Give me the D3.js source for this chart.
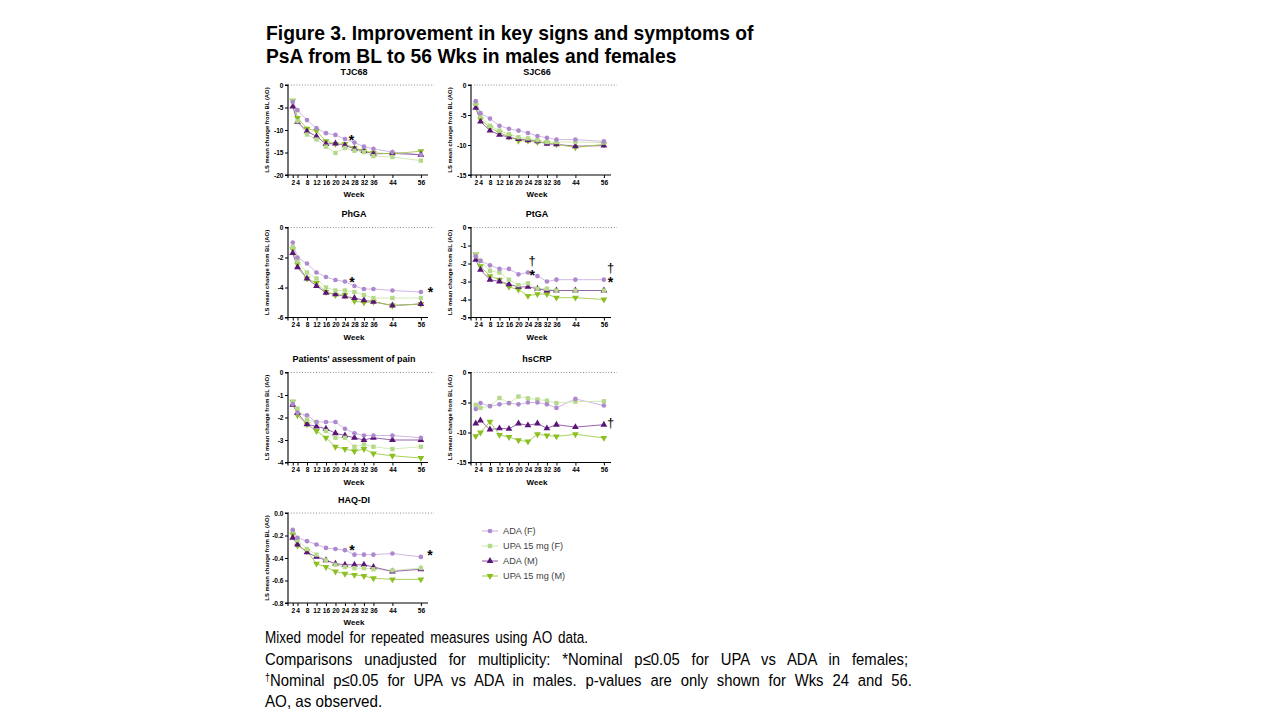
<!DOCTYPE html>
<html>
<head>
<meta charset="utf-8">
<script src="https://cdn.jsdelivr.net/npm/d3@7/dist/d3.min.js"></script>
<style>
  html, body { margin: 0; padding: 0; background: #fff; }
  svg { display: block; }
  text { font-family: "Liberation Sans", Arial, sans-serif; }
</style>
</head>
<body>
<svg id="chart" width="1280" height="720"></svg>
<script>
// ---------------- DATA ----------------
const weeks = [2, 4, 8, 12, 16, 20, 24, 28, 32, 36, 44, 56];
const xTickLabels = ["2", "4", "8", "12", "16", "20", "24", "28", "32", "36", "44", "56"];
const seriesNames = ["ADA (F)", "UPA 15 mg (F)", "ADA (M)", "UPA 15 mg (M)"];
const panelTitles = ["TJC68", "SJC66", "PhGA", "PtGA", "Patients' assessment of pain", "hsCRP", "HAQ-DI"];

// TJC68
const tjc68_ADA_F = [-3.8, -5.6, -7.8, -9.6, -10.7, -11.1, -12.0, -12.8, -13.7, -14.2, -14.9, -15.5];
const tjc68_UPA_F = [-3.5, -8.0, -11.0, -12.1, -13.7, -15.1, -14.0, -14.6, -14.9, -15.8, -16.0, -16.8];
const tjc68_ADA_M = [-4.8, -8.2, -10.3, -11.4, -13.1, -13.0, -13.4, -14.2, -14.7, -15.3, -15.2, -15.5];
const tjc68_UPA_M = [-3.5, -7.3, -9.7, -10.2, -12.5, -13.1, -13.1, -14.0, -14.6, -15.1, -15.3, -14.7];
const tjc68_yTicks = [0, -5, -10, -15, -20];

// SJC66
const sjc66_ADA_F = [-2.7, -4.7, -5.6, -6.8, -7.3, -7.6, -8.0, -8.5, -8.8, -9.1, -9.1, -9.4];
const sjc66_UPA_F = [-3.1, -5.2, -6.8, -7.6, -8.2, -8.7, -8.9, -9.2, -9.5, -9.5, -9.5, -9.6];
const sjc66_ADA_M = [-3.8, -6.1, -7.6, -8.3, -8.7, -9.0, -9.2, -9.4, -9.8, -9.9, -10.2, -10.1];
const sjc66_UPA_M = [-3.4, -5.7, -7.1, -7.95, -8.6, -9.3, -9.3, -9.5, -9.6, -9.9, -10.4, -9.9];
const sjc66_yTicks = [0, -5, -10, -15];

// PhGA
const phga_ADA_F = [-1.0, -2.0, -2.4, -3.0, -3.3, -3.5, -3.6, -3.9, -4.1, -4.1, -4.2, -4.3];
const phga_UPA_F = [-1.3, -2.25, -3.0, -3.4, -4.0, -4.2, -4.2, -4.3, -4.5, -4.7, -4.7, -4.7];
const phga_ADA_M = [-1.7, -2.65, -3.4, -3.9, -4.35, -4.45, -4.6, -4.7, -4.85, -4.95, -5.2, -5.1];
const phga_UPA_M = [-1.45, -2.45, -3.4, -3.7, -4.3, -4.5, -4.5, -4.9, -5.0, -4.95, -5.2, -5.1];
const phga_yTicks = [0, -2, -4, -6];

// PtGA
const ptga_ADA_F = [-1.6, -1.85, -2.1, -2.3, -2.3, -2.6, -2.5, -2.7, -3.0, -2.9, -2.9, -2.9];
const ptga_UPA_F = [-1.5, -1.85, -2.4, -2.5, -2.9, -3.2, -3.1, -3.4, -3.4, -3.5, -3.5, -3.5];
const ptga_ADA_M = [-1.8, -2.35, -2.9, -3.0, -3.15, -3.3, -3.3, -3.4, -3.5, -3.5, -3.5, -3.5];
const ptga_UPA_M = [-1.5, -2.15, -2.7, -2.9, -3.3, -3.45, -3.8, -3.7, -3.7, -3.9, -3.9, -4.0];
const ptga_yTicks = [0, -1, -2, -3, -4, -5];

// Patients' assessment of pain
const pain_ADA_F = [-1.4, -1.8, -1.9, -2.2, -2.2, -2.2, -2.5, -2.7, -2.8, -2.8, -2.8, -2.9];
const pain_UPA_F = [-1.3, -1.6, -2.1, -2.2, -2.6, -2.9, -2.9, -3.3, -3.2, -3.3, -3.4, -3.3];
const pain_ADA_M = [-1.43, -1.8, -2.3, -2.4, -2.5, -2.7, -2.8, -2.9, -3.0, -2.9, -3.0, -3.0];
const pain_UPA_M = [-1.3, -1.9, -2.3, -2.6, -2.9, -3.3, -3.4, -3.5, -3.4, -3.6, -3.7, -3.8];
const pain_yTicks = [0, -1, -2, -3, -4];

// hsCRP
const crp_ADA_F = [-6.1, -5.1, -5.6, -5.3, -5.1, -5.3, -5.0, -5.0, -5.3, -5.9, -4.4, -5.5];
const crp_UPA_F = [-5.4, -5.9, -5.6, -4.25, -5.1, -4.0, -4.3, -4.5, -4.7, -5.1, -4.85, -4.8];
const crp_ADA_M = [-8.5, -8.0, -9.5, -9.3, -9.4, -8.5, -8.8, -8.5, -9.3, -8.7, -9.1, -8.7];
const crp_UPA_M = [-10.6, -10.0, -8.2, -10.4, -10.75, -11.3, -11.5, -10.3, -10.5, -10.65, -10.3, -10.9];
const crp_yTicks = [0, -5, -10, -15];

// HAQ-DI
const haq_ADA_F = [-0.15, -0.22, -0.25, -0.28, -0.31, -0.32, -0.33, -0.37, -0.37, -0.37, -0.36, -0.39];
const haq_UPA_F = [-0.16, -0.24, -0.32, -0.37, -0.42, -0.46, -0.48, -0.49, -0.49, -0.50, -0.51, -0.49];
const haq_ADA_M = [-0.22, -0.28, -0.35, -0.39, -0.42, -0.45, -0.46, -0.46, -0.46, -0.48, -0.52, -0.50];
const haq_UPA_M = [-0.19, -0.29, -0.34, -0.45, -0.48, -0.52, -0.54, -0.55, -0.56, -0.58, -0.59, -0.59];
const haq_yTicks = [0, -0.2, -0.4, -0.6, -0.8];

// significance marks: [panel index, week position, value, symbol]
const annotations = [
  [0, 26.8, -11.7, "*"],
  [2, 27.0, -3.46, "*"],
  [2, 60.0, -4.13, "*"],
  [3, 25.8, -1.86, "\u2020"],
  [3, 25.8, -2.47, "*"],
  [3, 58.8, -2.26, "\u2020"],
  [3, 58.8, -2.88, "*"],
  [5, 58.8, -8.44, "\u2020"],
  [6, 27.0, -0.305, "*"],
  [6, 59.8, -0.345, "*"]
];

const titleLines = [
  "Figure 3. Improvement in key signs and symptoms of",
  "PsA from BL to 56 Wks in males and females"
];
const footLines = [
  "Mixed model for repeated measures using AO data.",
  "Comparisons unadjusted for multiplicity: *Nominal p\u22640.05 for UPA vs ADA in females;",
  "Nominal p\u22640.05 for UPA vs ADA in males. p-values are only shown for Wks 24 and 56.",
  "AO, as observed."
];

// ---------------- BUILD ----------------
const panelSeries = [
  [tjc68_ADA_F, tjc68_UPA_F, tjc68_ADA_M, tjc68_UPA_M],
  [sjc66_ADA_F, sjc66_UPA_F, sjc66_ADA_M, sjc66_UPA_M],
  [phga_ADA_F, phga_UPA_F, phga_ADA_M, phga_UPA_M],
  [ptga_ADA_F, ptga_UPA_F, ptga_ADA_M, ptga_UPA_M],
  [pain_ADA_F, pain_UPA_F, pain_ADA_M, pain_UPA_M],
  [crp_ADA_F, crp_UPA_F, crp_ADA_M, crp_UPA_M],
  [haq_ADA_F, haq_UPA_F, haq_ADA_M, haq_UPA_M]
];
const panelTicks = [tjc68_yTicks, sjc66_yTicks, phga_yTicks, ptga_yTicks, pain_yTicks, crp_yTicks, haq_yTicks];

const styles = [
  { fill: "#ad88cf", line: "#cbb0e0", sym: d3.symbolCircle, size: 17, rot: 0 },
  { fill: "#b5d98a", line: "#cfe6b0", sym: d3.symbolSquare, size: 19, rot: 0 },
  { fill: "#5a1577", line: "#8a55a6", sym: d3.symbolTriangle, size: 20, rot: 0 },
  { fill: "#8bbf22", line: "#9fcc4a", sym: d3.symbolTriangle, size: 20, rot: 180 }
];

const colX = [288, 471];
const rowTop = [85, 227.5, 372.5, 513];
const plotH = 90;
const plotW = 140;

const svg = d3.select("#chart");

// Title
svg.selectAll("text.title").data(titleLines).enter().append("text")
  .attr("class", "title")
  .attr("x", 266).attr("y", (d, i) => 40 + i * 22.5)
  .style("font-size", "19.3px").style("font-weight", "bold").attr("fill", "#000")
  .text(d => d);

panelSeries.forEach((series, pi) => {
  const col = pi % 2, row = Math.floor(pi / 2);
  const x0 = colX[col], top = rowTop[row];
  const ticks = panelTicks[pi];
  const yMin = d3.min(ticks);
  const x = d3.scaleLinear().domain([0, 59]).range([x0, x0 + plotW]);
  const y = d3.scaleLinear().domain([yMin, 0]).range([top + plotH, top]);
  const g = svg.append("g");

  // zero dotted line
  g.append("line")
    .attr("x1", x0).attr("x2", x0 + plotW + 6)
    .attr("y1", y(0)).attr("y2", y(0))
    .attr("stroke", "#7f7f7f").attr("stroke-width", 0.9)
    .attr("stroke-dasharray", "1,1.8");

  const fmt = pi === 6 ? (d => d === 0 ? "0.0" : d.toFixed(1)) : (d => String(d));

  // y axis
  const yAxis = g.append("g").attr("transform", `translate(${x0},0)`)
    .call(d3.axisLeft(y).tickValues(ticks).tickFormat(fmt).tickSize(3).tickPadding(1.5));
  // x axis
  const xAxis = g.append("g").attr("transform", `translate(0,${top + plotH})`)
    .call(d3.axisBottom(x).tickValues(weeks).tickFormat((d, i) => xTickLabels[i]).tickSize(3).tickPadding(2));
  [yAxis, xAxis].forEach(a => {
    a.select(".domain").attr("stroke", "#000").attr("stroke-width", 1.1);
    a.selectAll(".tick line").attr("stroke", "#000").attr("stroke-width", 1);
    a.selectAll(".tick text").attr("fill", "#000")
      .style("font-size", "6.6px").style("font-weight", "bold")
      .style("font-family", '"Liberation Sans", Arial, sans-serif');
  });
  yAxis.select(".domain").attr("d", `M-3,${y(0)}H0V${y(yMin)}H-3`);
  xAxis.select(".domain").attr("d", `M${x0},3V0H${x0 + plotW}`);

  // panel title
  g.append("text").attr("x", x0 + 66).attr("y", top - 10.5)
    .attr("text-anchor", "middle")
    .style("font-size", "9px").style("font-weight", "bold")
    .text(panelTitles[pi]);
  // week label
  g.append("text").attr("x", x0 + 66).attr("y", top + plotH + 22)
    .attr("text-anchor", "middle")
    .style("font-size", "8px").style("font-weight", "bold")
    .text("Week");
  // y label
  g.append("text")
    .attr("transform", `translate(${x0 - 19},${top + plotH / 2}) rotate(-90)`)
    .attr("text-anchor", "middle")
    .style("font-size", "5.9px").style("font-weight", "bold")
    .text("LS mean change from BL (AO)");

  // lines
  series.forEach((vals, si) => {
    const line = d3.line().x((d, i) => x(weeks[i])).y(d => y(d));
    g.append("path").attr("d", line(vals))
      .attr("fill", "none").attr("stroke", styles[si].line).attr("stroke-width", 0.9);
  });
  // markers
  [3, 2, 1, 0].forEach(si => {
    const st = styles[si];
    g.selectAll(null).data(series[si]).enter().append("path")
      .attr("d", d3.symbol().type(st.sym).size(st.size))
      .attr("transform", (d, i) => `translate(${x(weeks[i])},${y(d)}) rotate(${st.rot})`)
      .attr("fill", st.fill);
  });

  // annotations
  annotations.filter(a => a[0] === pi).forEach(a => {
    const px = x(a[1]), py = y(a[2]);
    if (a[3] === "*") {
      g.append("text").attr("x", px).attr("y", py + 14 * 0.56)
        .attr("text-anchor", "middle").attr("fill", "#000")
        .style("font-size", "14px").style("font-weight", "bold")
        .text("*");
    } else {
      g.append("text").attr("x", px).attr("y", py + 13 * 0.3)
        .attr("text-anchor", "middle").attr("fill", "#000")
        .style("font-size", "13px")
        .text(a[3]);
    }
  });
});

// Legend
const legY = [531, 546, 561, 576];
seriesNames.forEach((name, si) => {
  const st = styles[si];
  const gy = legY[si];
  svg.append("line").attr("x1", 482).attr("x2", 498).attr("y1", gy).attr("y2", gy)
    .attr("stroke", st.line).attr("stroke-width", 1);
  svg.append("path").attr("d", d3.symbol().type(st.sym).size(st.size)())
    .attr("transform", `translate(490,${gy}) rotate(${st.rot})`)
    .attr("fill", st.fill);
  svg.append("text").attr("x", 503).attr("y", gy + 3.2)
    .style("font-size", "9.2px").attr("fill", "#404040").text(name);
});

// Footnote: slightly condensed glyphs, justified
const footY = [643, 664.5, 686, 707];
const footW = [323, 643, 647, 0];
const footSx = [0.82, 0.9, 0.9, 0.92];
footLines.forEach((line, i) => {
  const sx = footSx[i];
  const t = svg.append("text")
    .attr("transform", `translate(265,${footY[i]}) scale(${sx},1)`)
    .style("font-size", "16.5px")
    .attr("fill", "#000");
  if (i === 2) {
    t.append("tspan").style("font-size", "10px").attr("dy", -5).text("\u2020");
    t.append("tspan").attr("dy", 5).text(line);
  } else {
    t.text(line);
  }
  if (footW[i] > 0) {
    const w = t.node().getComputedTextLength();
    const spaces = (line.match(/ /g) || []).length;
    const ws = Math.max(0, (footW[i] / sx - w) / spaces);
    t.style("word-spacing", ws + "px");
  }
});
</script>
</body>
</html>
